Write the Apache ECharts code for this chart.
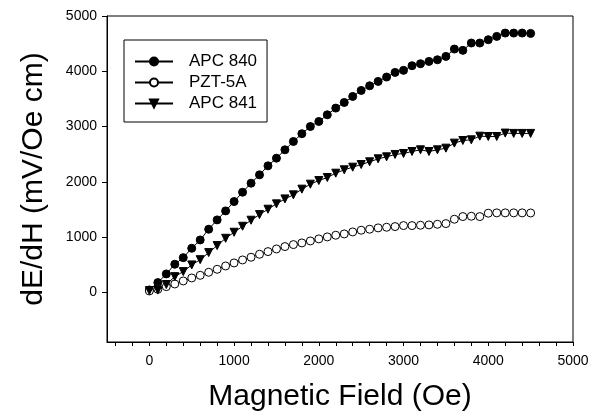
<!DOCTYPE html>
<html>
<head>
<meta charset="utf-8">
<script src="https://cdn.jsdelivr.net/npm/echarts@6/dist/echarts.min.js"></script>
<style>
  html, body { margin: 0; padding: 0; background: #fff; }
  #chart { width: 602px; height: 418px; }
</style>
</head>
<body>
<div id="chart"></div>
<script>
// == Data ====================================================================

const field = [
  0, 100, 200, 300, 400, 500, 600, 700, 800, 900,
  1000, 1100, 1200, 1300, 1400, 1500, 1600, 1700, 1800, 1900,
  2000, 2100, 2200, 2300, 2400, 2500, 2600, 2700, 2800, 2900,
  3000, 3100, 3200, 3300, 3400, 3500, 3600, 3700, 3800, 3900,
  4000, 4100, 4200, 4300, 4400, 4500
]

const apc840 = [
  42, 175, 332, 507, 627, 796, 947, 1141, 1310, 1473,
  1642, 1811, 1974, 2125, 2288, 2427, 2578, 2729, 2870, 3000,
  3091, 3212, 3333, 3435, 3544, 3653, 3737, 3816, 3895, 3979,
  4016, 4100, 4136, 4178, 4208, 4269, 4402, 4378, 4511, 4511,
  4571, 4631, 4691, 4691, 4691, 4685
]

const pzt5a = [
  24, 54, 102, 150, 205, 259, 307, 362, 416, 476,
  531, 585, 634, 688, 736, 784, 827, 863, 893, 929,
  966, 1002, 1032, 1056, 1092, 1123, 1141, 1165, 1177, 1189,
  1207, 1207, 1213, 1219, 1231, 1243, 1322, 1370, 1376, 1370,
  1431, 1437, 1437, 1437, 1437, 1435
]

const apc841 = [
  30, 40, 140, 283, 374, 495, 590, 718, 845, 977,
  1086, 1195, 1304, 1406, 1503, 1600, 1690, 1763, 1866, 1956,
  2022, 2077, 2155, 2216, 2264, 2312, 2361, 2415, 2451, 2494,
  2512, 2548, 2578, 2548, 2578, 2608, 2699, 2747, 2759, 2825,
  2819, 2819, 2881, 2875, 2875, 2875
]

const xTickLabels = [0, 1000, 2000, 3000, 4000, 5000]
const xTicks = [
  -400, -200, 0, 200, 400, 600, 800, 1000, 1200, 1400, 1600, 1800, 2000,
  2200, 2400, 2600, 2800, 3000, 3200, 3400, 3600, 3800, 4000, 4200, 4400,
  4600, 4800, 5000
]
const yTickLabels = [0, 1000, 2000, 3000, 4000, 5000]

// == Chart ===================================================================

const font = 'Liberation Sans, Arial, Helvetica, sans-serif'

function pairs (ys) {
  return field.map((x, i) => [x, ys[i]])
}

function lineSeries (name, ys, symbol, fill, rotate) {
  return {
    name: name,
    type: 'line',
    data: pairs(ys),
    symbol: symbol,
    symbolSize: 8,
    symbolRotate: rotate || 0,
    showAllSymbol: true,
    lineStyle: { color: '#000', width: 1 },
    itemStyle: { color: fill, borderColor: '#000', borderWidth: 1 },
    emphasis: { disabled: true },
    animation: false
  }
}

const plain = v => String(v)

const option = {
  backgroundColor: '#fff',
  animation: false,
  grid: {
    left: 107, right: 29, top: 16, bottom: 76,
    show: true, borderColor: '#000', borderWidth: 1
  },
  legend: {
    orient: 'vertical',
    left: 124, top: 40,
    padding: [13, 10, 10, 10],
    itemGap: 4,
    itemWidth: 38,
    itemHeight: 10,
    borderColor: '#000',
    borderWidth: 1,
    textStyle: {
      fontFamily: font, fontSize: 17, color: '#000',
      lineHeight: 17, padding: [0, 0, 0, 11]
    },
    data: ['APC 840', 'PZT-5A', 'APC 841']
  },
  xAxis: {
    type: 'value',
    min: -500, max: 5000,
    name: 'Magnetic Field (Oe)',
    nameLocation: 'middle',
    nameGap: 40,
    nameTextStyle: { fontFamily: font, fontSize: 30, color: '#000' },
    axisLine: { show: true, onZero: false, lineStyle: { color: '#000', width: 1 } },
    axisTick: { show: true, length: 4, customValues: xTicks, lineStyle: { color: '#000' } },
    axisLabel: { customValues: xTickLabels, formatter: plain, margin: 12, fontFamily: font, fontSize: 14, color: '#000' },
    splitLine: { show: false }
  },
  yAxis: {
    type: 'value',
    min: -900, max: 5000,
    name: 'dE/dH (mV/Oe cm)',
    nameLocation: 'middle',
    nameGap: 58,
    nameTextStyle: { fontFamily: font, fontSize: 30, color: '#000' },
    axisLine: { show: true, onZero: false, lineStyle: { color: '#000', width: 1 } },
    axisTick: { show: true, length: 5, customValues: yTickLabels, lineStyle: { color: '#000' } },
    axisLabel: { customValues: yTickLabels, formatter: plain, margin: 10, fontFamily: font, fontSize: 14, color: '#000' },
    splitLine: { show: false }
  },
  series: [
    lineSeries('APC 840', apc840, 'circle', '#000'),
    lineSeries('PZT-5A', pzt5a, 'circle', '#fff'),
    lineSeries('APC 841', apc841, 'triangle', '#000', 180)
  ]
}

const myChart = echarts.init(document.getElementById('chart'))
myChart.setOption(option)
</script>
</body>
</html>
